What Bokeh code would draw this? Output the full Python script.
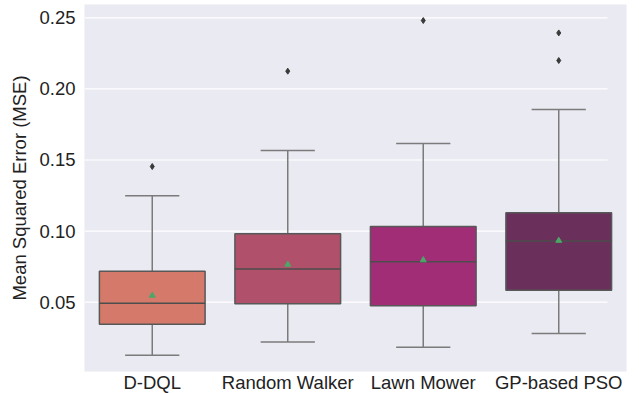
from bokeh.plotting import figure
from bokeh.models import Range1d, FixedTicker, ColumnDataSource
from bokeh.embed import file_html
from bokeh.resources import INLINE

# Box-plot summary statistics per method (MSE)
methods = ["D-DQL", "Random Walker", "Lawn Mower", "GP-based PSO"]
q1 = [0.0345, 0.0488, 0.0474, 0.0584]
median = [0.0493, 0.0734, 0.0784, 0.0931]
q3 = [0.0718, 0.0981, 0.1032, 0.1128]
whisker_low = [0.0127, 0.0219, 0.0183, 0.0280]
whisker_high = [0.1248, 0.1567, 0.1616, 0.1855]
mean = [0.0547, 0.0765, 0.0796, 0.0933]
outliers = [[0.1454], [0.2125], [0.2481], [0.2394, 0.2200]]
box_colors = ["#D57A6B", "#B0506A", "#A12D77", "#6A2F5B"]
y_ticks = [0.05, 0.10, 0.15, 0.20, 0.25]

FONT = "Liberation Sans"
FONT_SIZE = "18.5px"
BOX_W = 0.78
CAP_W = 0.4

xs = list(range(len(methods)))

p = figure(
    width=639, height=393,
    frame_width=542, frame_height=367,
    min_border_left=84, min_border_right=13, min_border_top=4, min_border_bottom=22,
    x_range=Range1d(-0.5, 3.5), y_range=Range1d(0.0012, 0.2594),
    output_backend="svg", toolbar_location=None,
    background_fill_color="#EAEAF2", border_fill_color="white",
    outline_line_color=None,
)
p.xgrid.visible = False
p.ygrid.visible = False

# horizontal guide lines behind the boxes
p.segment(x0=[-0.5] * len(y_ticks), x1=[3.36] * len(y_ticks), y0=y_ticks, y1=y_ticks,
          line_color="white", line_width=1.2)

src = ColumnDataSource(dict(
    x=xs, q1=q1, med=median, q3=q3, lo=whisker_low, hi=whisker_high, mean=mean,
    color=box_colors,
    cap_l=[x - CAP_W / 2 for x in xs], cap_r=[x + CAP_W / 2 for x in xs],
    box_l=[x - BOX_W / 2 for x in xs], box_r=[x + BOX_W / 2 for x in xs],
))

whisker_color = "#7b7b7b"
edge_color = "#585858"

# whiskers and caps
p.segment(x0="x", x1="x", y0="q3", y1="hi", source=src, line_color=whisker_color, line_width=1.5)
p.segment(x0="x", x1="x", y0="lo", y1="q1", source=src, line_color=whisker_color, line_width=1.5)
p.segment(x0="cap_l", x1="cap_r", y0="hi", y1="hi", source=src, line_color=whisker_color, line_width=1.5)
p.segment(x0="cap_l", x1="cap_r", y0="lo", y1="lo", source=src, line_color=whisker_color, line_width=1.5)

# boxes
p.vbar(x="x", width=BOX_W, bottom="q1", top="q3", source=src,
       fill_color="color", line_color=edge_color, line_width=1.5)

# medians
p.segment(x0="box_l", x1="box_r", y0="med", y1="med", source=src,
          line_color="#4d4d4d", line_width=1.5)

# means
p.scatter(x="x", y="mean", source=src, marker="triangle", size=6,
          fill_color="#4CA768", line_color="#4CA768")

# outliers
ox = [x for x, vals in zip(xs, outliers) for _ in vals]
oy = [v for vals in outliers for v in vals]
p.scatter(x=ox, y=oy, marker="diamond", size=6, fill_color="#3a3a3a", line_color="#3a3a3a")

# axes
p.xaxis.ticker = FixedTicker(ticks=xs)
p.xaxis.major_label_overrides = {i: m for i, m in enumerate(methods)}
p.yaxis.ticker = FixedTicker(ticks=y_ticks)
p.yaxis.major_label_overrides = {t: f"{t:.2f}" for t in y_ticks}
p.yaxis.axis_label = "Mean Squared Error (MSE)"

for ax in (p.xaxis[0], p.yaxis[0]):
    ax.axis_line_color = None
    ax.major_tick_line_color = None
    ax.minor_tick_line_color = None
    ax.major_tick_out = 0
    ax.major_tick_in = 0
    ax.minor_tick_out = 0
    ax.major_label_text_font = FONT
    ax.major_label_text_font_size = FONT_SIZE
    ax.major_label_text_color = "#222222"
    ax.axis_label_text_font = FONT
    ax.axis_label_text_font_size = FONT_SIZE
    ax.axis_label_text_font_style = "normal"
    ax.axis_label_text_color = "#222222"

p.xaxis.major_label_standoff = 0
p.yaxis.major_label_standoff = 9
p.yaxis.axis_label_standoff = 6

open("out.html", "w").write(file_html(p, INLINE))
